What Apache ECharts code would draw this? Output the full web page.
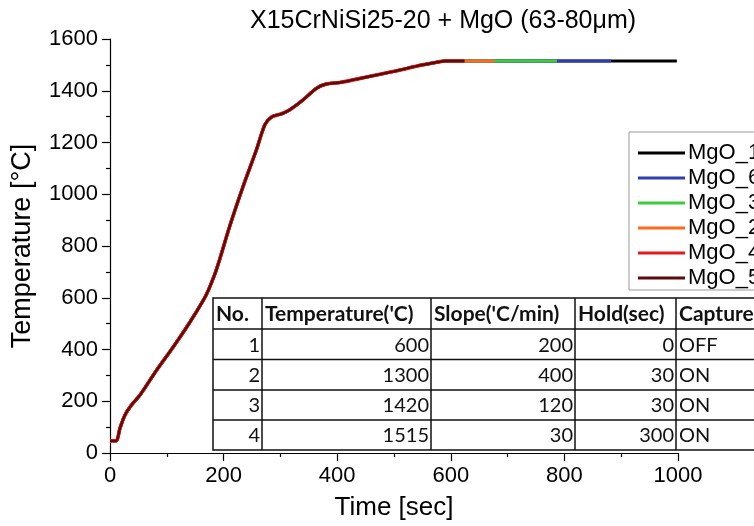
<!DOCTYPE html>
<html><head><meta charset="utf-8">
<script src="https://cdn.jsdelivr.net/npm/echarts/dist/echarts.min.js"></script>
<style>html,body{margin:0;padding:0;background:#fff}#c{width:754px;height:526px}</style>
</head><body><div id="c"></div>
<script>
// ---- data ----
const timeSec = [0, 10.6, 17.6, 26.4, 38, 52.8, 82, 111.4, 140.8, 164.2, 173, 187.7, 211, 234.6, 258, 272.7, 284.5, 302, 316.7, 340, 363.7, 381, 404.7, 450, 500, 550, 575, 590];
const tempC   = [47, 47, 96, 147, 186, 224, 320, 410, 506, 590, 628, 711, 878, 1032, 1173, 1269, 1299, 1311, 1327, 1365, 1410, 1426, 1432, 1452, 1475, 1500, 1510, 1515];
const seriesNames  = ['MgO_1', 'MgO_6', 'MgO_3', 'MgO_2', 'MgO_4', 'MgO_5'];
const seriesColors = ['#000000', '#2f3fb0', '#3ccc3c', '#ff6a1f', '#e51b1b', '#5c0a0a'];
const seriesEndSec = [998, 882, 787, 677, 624, 624];
const holdTempC    = [1515, 1515, 1515, 1515, 1515, 1515];
const xTicks = [0, 200, 400, 600, 800, 1000];
const yTicks = [0, 200, 400, 600, 800, 1000, 1200, 1400, 1600];

const tableHeader  = ['No.', "Temperature('C)", "Slope('C/min)", 'Hold(sec)', 'Capture'];
const stepNo       = [1, 2, 3, 4];
const stepTemp     = [600, 1300, 1420, 1515];
const stepSlope    = [200, 400, 120, 30];
const stepHold     = [0, 30, 30, 300];
const stepCapture  = ['OFF', 'ON', 'ON', 'ON'];

// ---- build ----
const series = seriesNames.map((name, i) => {
  const pts = [];
  for (let k = 0; k < timeSec.length; k++) {
    if (timeSec[k] <= seriesEndSec[i]) pts.push([timeSec[k], tempC[k]]);
  }
  pts.push([seriesEndSec[i], holdTempC[i]]);
  return {
    name, type: 'line', data: pts, showSymbol: false, symbol: 'none', smooth: 0.3,
    lineStyle: { color: seriesColors[i], width: name === 'MgO_4' ? 3.6 : (name === 'MgO_5' ? 2.4 : 3) },
    itemStyle: { color: seriesColors[i] }, animation: false, z: 2 + i
  };
});

const colX = [213, 262, 431, 575, 676, 775];
const rowY = [298, 329, 359.5, 390, 420, 450];
const g = [];
g.push({ type: 'rect', shape: { x: colX[0], y: rowY[0], width: colX[5] - colX[0], height: rowY[5] - rowY[0] },
  style: { fill: '#fff', stroke: '#111', lineWidth: 1.5 }, z: 10 });
for (let r = 1; r < rowY.length - 1; r++) g.push({ type: 'line', shape: { x1: colX[0], y1: rowY[r], x2: colX[5], y2: rowY[r] }, style: { stroke: '#111', lineWidth: 1.5 }, z: 11 });
for (let c = 1; c < colX.length - 1; c++) g.push({ type: 'line', shape: { x1: colX[c], y1: rowY[0], x2: colX[c], y2: rowY[5] }, style: { stroke: '#111', lineWidth: 1.5 }, z: 11 });
const tf = '20px Lato, "Open Sans", sans-serif';
const tfb = 'bold 21px Lato, "Open Sans", sans-serif';
tableHeader.forEach((h, c) => g.push({ type: 'text', z: 12, style: { text: h, x: colX[c] + 3, y: (rowY[0] + rowY[1]) / 2 + 1, font: tfb, fill: '#111', textAlign: 'left', textVerticalAlign: 'middle' } }));
for (let r = 0; r < stepNo.length; r++) {
  const cy = (rowY[r + 1] + rowY[r + 2]) / 2 + 1;
  const vals = [stepNo[r], stepTemp[r], stepSlope[r], stepHold[r]];
  vals.forEach((v, c) => g.push({ type: 'text', z: 12, style: { text: String(v), x: colX[c + 1] - 2, y: cy, font: tf, fill: '#111', textAlign: 'right', textVerticalAlign: 'middle' } }));
  g.push({ type: 'text', z: 12, style: { text: stepCapture[r], x: colX[4] + 3, y: cy, font: tf, fill: '#111', textAlign: 'left', textVerticalAlign: 'middle' } });
}

const font = '"Liberation Sans", Arial, sans-serif';
const axisCommon = {
  axisLine: { show: true, lineStyle: { color: '#000', width: 1.2 } },
  axisTick: { show: true, inside: false, length: 8, lineStyle: { color: '#000', width: 1.2 } },
  minorTick: { show: true, splitNumber: 2, length: 4, lineStyle: { color: '#000', width: 1.2 } },
  splitLine: { show: false },
  axisLabel: { color: '#000', fontSize: 22, fontFamily: font, margin: 12, formatter: v => String(v) },
  nameLocation: 'middle',
  nameTextStyle: { color: '#000', fontSize: 26, fontFamily: font }
};

const chart = echarts.init(document.getElementById('c'));
chart.setOption({
  animation: false,
  backgroundColor: '#fff',
  title: { text: 'X15CrNiSi25-20 + MgO (63-80μm)', left: 245, top: 4,
    textStyle: { color: '#000', fontSize: 25, fontWeight: 'normal', fontFamily: font } },
  grid: { left: 110, right: 76, top: 39, bottom: 71 },
  xAxis: Object.assign({}, axisCommon, { type: 'value', min: xTicks[0], max: xTicks[xTicks.length - 1], interval: 200,
    name: 'Time [sec]', nameGap: 42 }),
  yAxis: Object.assign({}, axisCommon, { type: 'value', min: yTicks[0], max: yTicks[yTicks.length - 1], interval: 200,
    name: 'Temperature [°C]', nameGap: 74, nameTextStyle: { color: '#000', fontSize: 27, fontFamily: font } }),
  legend: { orient: 'vertical', left: 629, top: 132, itemWidth: 47, itemHeight: 18, itemGap: 3,
    icon: 'path://M0,0H47V3H0Z',
    padding: [10, 40, 1, 9], borderColor: '#999', borderWidth: 1, backgroundColor: '#fff',
    textStyle: { color: '#000', fontSize: 22, lineHeight: 18, fontFamily: font, padding: [0, 0, 0, -2] },
    data: seriesNames },
  graphic: g,
  series
});
</script></body></html>
